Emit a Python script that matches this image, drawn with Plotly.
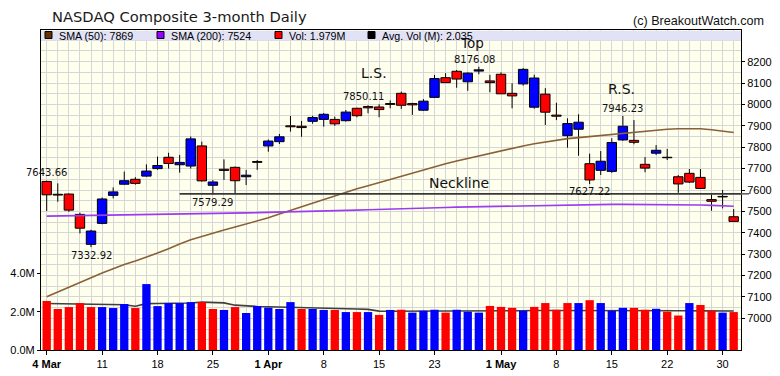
import plotly.graph_objects as go

# ---------------- data ----------------
dates = ["2019-03-04","2019-03-05","2019-03-06","2019-03-07","2019-03-08",
         "2019-03-11","2019-03-12","2019-03-13","2019-03-14","2019-03-15",
         "2019-03-18","2019-03-19","2019-03-20","2019-03-21","2019-03-22",
         "2019-03-25","2019-03-26","2019-03-27","2019-03-28","2019-03-29",
         "2019-04-01","2019-04-02","2019-04-03","2019-04-04","2019-04-05",
         "2019-04-08","2019-04-09","2019-04-10","2019-04-11","2019-04-12",
         "2019-04-15","2019-04-16","2019-04-17","2019-04-18",
         "2019-04-22","2019-04-23","2019-04-24","2019-04-25","2019-04-26",
         "2019-04-29","2019-04-30","2019-05-01","2019-05-02","2019-05-03",
         "2019-05-06","2019-05-07","2019-05-08","2019-05-09","2019-05-10",
         "2019-05-13","2019-05-14","2019-05-15","2019-05-16","2019-05-17",
         "2019-05-20","2019-05-21","2019-05-22","2019-05-23","2019-05-24",
         "2019-05-28","2019-05-29","2019-05-30","2019-05-31"]

open_ = [7640, 7580, 7581, 7486, 7346, 7444, 7575, 7627, 7650, 7665,
         7700, 7753, 7718, 7712, 7806, 7622, 7697, 7706, 7662, 7733,
         7806, 7826, 7900, 7898, 7921, 7930, 7930, 7924, 7982, 7990,
         7988, 8004, 8052, 8004, 7973, 8033, 8125, 8155, 8106, 8156,
         8110, 8141, 8052, 8096, 7987, 8048, 7950, 7854, 7884, 7723,
         7692, 7687, 7834, 7832, 7720, 7772, 7753, 7662, 7678, 7659,
         7555, 7570, 7475]
high = [7643.66, 7631, 7584, 7494, 7414, 7565, 7612, 7686, 7660, 7720,
        7756, 7774, 7764, 7850.11, 7826, 7646, 7743, 7710, 7694, 7740,
        7836, 7862, 7946, 7923, 7947, 7960, 7943, 7974, 7985, 7996,
        8001, 8019, 8060, 8008, 8025, 8138, 8146, 8161, 8150, 8176.08,
        8138, 8150, 8099, 8170, 8139, 8076, 8008, 7935, 7954, 7770,
        7782, 7842, 7946.23, 7927, 7754, 7810, 7792, 7670, 7698, 7698,
        7580, 7600, 7511]
low = [7502, 7545, 7498, 7397, 7332.92, 7440, 7561, 7625, 7625, 7662,
       7695, 7700, 7681, 7700, 7640, 7579.29, 7647, 7584, 7623, 7694,
       7779, 7815, 7873, 7849, 7910, 7896, 7900, 7920, 7940, 7959,
       7940, 7982, 7979, 7951, 7970, 8030, 8100, 8078, 8064, 8141,
       8057, 8050, 7982, 8088, 7980, 7904, 7927, 7798, 7760, 7627.22,
       7670, 7680, 7830, 7814, 7683, 7764, 7740, 7587, 7633, 7606,
       7503, 7514, 7452]
close = [7577.57, 7576.36, 7505.92, 7421.46, 7408.14, 7558.06, 7591.03, 7643.41, 7630.91, 7688.53,
         7714.48, 7723.95, 7728.97, 7838.96, 7642.67, 7637.54, 7691.52, 7643.38, 7669.17, 7729.32,
         7828.91, 7848.69, 7895.55, 7891.78, 7938.69, 7953.88, 7909.28, 7964.24, 7947.36, 7984.16,
         7976.01, 8000.23, 7996.08, 7998.06, 8015.27, 8120.82, 8102.01, 8118.68, 8146.40, 8161.85,
         8102.00, 8049.64, 8040.00, 8164.00, 8123.45, 7963.76, 7945.00, 7910.59, 7916.94, 7647.02,
         7734.49, 7822.15, 7898.05, 7823.00, 7702.38, 7785.72, 7750.84, 7628.28, 7637.01, 7607.35,
         7547.31, 7567.72, 7453.15]
prev_close = 7595.35

volume_m = [2.56, 2.14, 2.24, 2.45, 2.24, 2.24, 2.19, 2.40, 2.19, 3.44,
            2.29, 2.45, 2.45, 2.50, 2.50, 2.14, 2.09, 2.24, 1.93, 2.29,
            2.21, 2.14, 2.50, 2.14, 2.14, 2.09, 2.09, 1.98, 1.98, 1.98,
            1.83, 2.09, 2.10, 1.95, 2.05, 2.10, 1.95, 2.10, 2.00, 1.95,
            2.30, 2.25, 2.20, 2.05, 2.25, 2.45, 2.10, 2.45, 2.45, 2.60,
            2.45, 2.05, 2.20, 2.20, 2.10, 2.15, 2.00, 1.80, 2.45, 2.35,
            2.05, 1.95, 1.979]
avg_vol_m = [2.43, 2.42, 2.42, 2.41, 2.41, 2.40, 2.39, 2.36, 2.28, 2.42,
             2.43, 2.43, 2.43, 2.45, 2.50, 2.48, 2.46, 2.34, 2.29, 2.27,
             2.26, 2.25, 2.20, 2.20, 2.19, 2.18, 2.16, 2.15, 2.14, 2.12,
             2.03, 2.02, 2.02, 2.02, 2.03, 2.03, 2.03, 2.03, 2.03, 2.03,
             2.04, 2.05, 2.05, 2.05, 2.06, 2.06, 2.06, 2.07, 2.07, 2.08,
             2.08, 2.08, 2.08, 2.07, 2.07, 2.06, 2.06, 2.05, 2.05, 2.04,
             2.04, 2.04, 2.035]
sma50 = [7101, 7124, 7146, 7168, 7190, 7212, 7232, 7252, 7268, 7285,
         7305, 7325, 7348, 7367, 7383, 7398, 7413, 7427, 7441, 7455,
         7470, 7488, 7505, 7522, 7540, 7557, 7574, 7590, 7606, 7620,
         7635, 7650, 7665, 7680, 7695, 7710, 7723, 7736, 7748, 7760,
         7772, 7784, 7796, 7806, 7816, 7825, 7833, 7840, 7845, 7850,
         7855, 7860, 7866, 7871, 7876, 7880, 7884, 7886, 7887, 7886,
         7882, 7876, 7869]
sma200 = [7478, 7479, 7480, 7480, 7481, 7482, 7483, 7484, 7485, 7486,
          7487, 7488, 7489, 7490, 7491, 7492, 7492, 7493, 7493, 7494,
          7495, 7496, 7497, 7499, 7500, 7502, 7503, 7505, 7506, 7508,
          7509, 7511, 7512, 7514, 7515, 7517, 7518, 7520, 7521, 7523,
          7524, 7526, 7527, 7528, 7529, 7530, 7531, 7531, 7532, 7532,
          7532, 7533, 7533, 7533, 7533, 7533, 7532, 7532, 7531, 7530,
          7528, 7526, 7524]

tick_dates = ["2019-03-04","2019-03-11","2019-03-18","2019-03-25","2019-04-01",
              "2019-04-08","2019-04-15","2019-04-23","2019-05-01","2019-05-08",
              "2019-05-15","2019-05-22","2019-05-30"]
tick_labels = ["<b>4 Mar</b>","11","18","25","<b>1 Apr</b>","8","15","23",
               "<b>1 May</b>","8","15","22","30"]
price_ticks = [7000, 7100, 7200, 7300, 7400, 7500, 7600, 7700, 7800, 7900, 8000, 8100, 8200]
vol_ticks_m = [0, 2, 4]

neckline_level = 7582
neckline_start = "2019-03-20"

legend_items = [("SMA (50): 7869", "#663300"), ("SMA (200): 7524", "#9900ff"),
                ("Vol: 1.979M", "#ff0000"), ("Avg. Vol (M): 2.035", "#000000")]

# ---------------- derived ----------------
n = len(dates)
xi = list(range(n))
UP, DN = "#0000ff", "#ff0000"
body_base = [min(o, c) for o, c in zip(open_, close)]
body_h = [abs(c - o) for o, c in zip(open_, close)]
body_col = [UP if c > o else DN for o, c in zip(open_, close)]
prevs = [prev_close] + close[:-1]
vol_col = [UP if c > p else DN for c, p in zip(close, prevs)]

wx, wy = [], []
for i in xi:
    top = max(open_[i], close[i]); bot = min(open_[i], close[i])
    wx += [i, i, None, i, i, None]
    wy += [high[i], top, None, bot, low[i], None]

FONT = "Liberation Sans, Arial, sans-serif"
DV = "DejaVu Sans, sans-serif"
GRID = "#d6d6d6"
Y_RANGE = [6852, 8348]

fig = go.Figure()
fig.add_trace(go.Scatter(x=wx, y=wy, mode="lines", line=dict(color="black", width=1),
                         hoverinfo="skip", showlegend=False))
fig.add_trace(go.Bar(x=xi, y=body_h, base=body_base, width=0.85,
                     marker=dict(color=body_col, line=dict(color="black", width=1)),
                     showlegend=False))
fig.add_trace(go.Scatter(x=xi, y=sma50, mode="lines", line=dict(color="#8a6038", width=1.6),
                         showlegend=False))
fig.add_trace(go.Scatter(x=xi, y=sma200, mode="lines", line=dict(color="#9a3cf0", width=1.6),
                         showlegend=False))
fig.add_trace(go.Scatter(x=xi, y=[v * 1e6 for v in avg_vol_m], mode="lines", yaxis="y2",
                         line=dict(color="#404040", width=1.6), showlegend=False))
fig.add_trace(go.Bar(x=xi, y=[v * 1e6 for v in volume_m], yaxis="y3", width=0.75,
                     marker=dict(color=vol_col, line=dict(width=0)), showlegend=False))

PL, PR, PT, PB = 41, 741, 30, 350
def px(x): return (x - PL) / (PR - PL)
def py(y): return (PB - y) / (PB - PT)

ns = dates.index(neckline_start)
fig.add_shape(type="line", xref="x", yref="y", x0=ns, x1=n + 1, y0=neckline_level, y1=neckline_level,
              line=dict(color="#383838", width=1.6), layer="above")
neck_p = (neckline_level - Y_RANGE[0]) / (Y_RANGE[1] - Y_RANGE[0])
fig.add_shape(type="line", xref="paper", yref="paper", x0=1, x1=px(749), y0=neck_p, y1=neck_p,
              line=dict(color="#606060", width=1.6), layer="above")

# legend band
fig.add_shape(type="rect", xref="paper", yref="paper", x0=0, x1=1, y0=py(40.5), y1=py(30.8),
              fillcolor="#e2e2f6", line=dict(width=0), layer="above")
leg_x = [45, 157, 275, 368]
for (txt, col), lx in zip(legend_items, leg_x):
    fig.add_shape(type="rect", xref="paper", yref="paper", x0=px(lx), x1=px(lx + 7),
                  y0=py(38.5), y1=py(31.5), fillcolor=col, line=dict(color="black", width=1),
                  layer="above")
    fig.add_annotation(xref="paper", yref="paper", x=px(lx + 12), y=py(35.5), text=txt,
                       showarrow=False, xanchor="left", yanchor="middle",
                       font=dict(family=FONT, size=10.7, color="black"))

# pattern annotations
def ann(i, yv, text, size, anchor, ys=0, xs=0):
    fig.add_annotation(x=i, y=yv, text=text, showarrow=False, xanchor="center", yanchor=anchor,
                       yshift=ys, xshift=xs, font=dict(family=DV, size=size, color="#111"))

i_ls = high.index(max(high[:30]))
ann(0, high[0], "7643.66", 10, "bottom", 1)
ann(i_ls, high[i_ls], "7850.11", 10, "bottom", 1, -5)
ann(i_ls, high[i_ls], "L.S.", 14, "bottom", 22, 6)
i_lo = low.index(min(low))
ann(i_lo, low[i_lo], "7332.92", 10, "top", -1)
ann(15, low[15], "7579.29", 10, "top", -0.5)
i_top = high.index(max(high))
ann(i_top, high[i_top], "8176.08", 10, "bottom", 0, -4)
ann(i_top, high[i_top], "Top", 13.5, "bottom", 14, -7)
ann(52, high[52], "7946.23", 10, "bottom", 0)
ann(52, high[52], "R.S.", 14, "bottom", 17, -1)
ann(49, low[49], "7627.22", 10, "top", 0)
fig.add_annotation(x=37.2, y=neckline_level, text="Neckline", showarrow=False, xanchor="center",
                   yanchor="bottom", yshift=1, font=dict(family=DV, size=14, color="#111"))

fig.add_annotation(xref="paper", yref="paper", x=px(50), y=py(16), text="NASDAQ Composite 3-month Daily",
                   showarrow=False, xanchor="left", yanchor="middle",
                   font=dict(family=DV, size=14.7, color="#1a1a1a"))
fig.add_annotation(xref="paper", yref="paper", x=px(766), y=py(21), text="(c) BreakoutWatch.com",
                   showarrow=False, xanchor="right", yanchor="middle",
                   font=dict(family=FONT, size=12.6, color="#111"))

fig.update_layout(
    width=780, height=376, margin=dict(l=PL, r=780 - PR, t=PT, b=376 - PB, autoexpand=False),
    paper_bgcolor="white", plot_bgcolor="#ffffee", barmode="overlay", showlegend=False,
    font=dict(family=FONT, size=10.7, color="black"),
    xaxis=dict(range=[-0.514, 62.66], tickmode="array", automargin=False,
               tickvals=[dates.index(d) for d in tick_dates], ticktext=tick_labels,
               ticks="outside", ticklen=4, tickcolor="black", showgrid=True, gridcolor=GRID,
               minor=dict(tickmode="linear", tick0=0, dtick=1, showgrid=True, gridcolor=GRID, ticks=""),
               showline=True, linecolor="black", mirror=True, zeroline=False,
               tickfont=dict(family=FONT, size=11)),
    yaxis=dict(side="right", range=Y_RANGE, tickmode="array", tickvals=price_ticks,
               automargin=False,
               ticks="outside", ticklen=3, tickcolor="black", showgrid=True, gridcolor=GRID,
               minor=dict(tickmode="linear", tick0=0, dtick=50, showgrid=True, gridcolor=GRID, ticks=""),
               showline=True, linecolor="black", mirror=True, zeroline=False,
               tickfont=dict(family=FONT, size=11)),
    yaxis2=dict(overlaying="y", side="left", range=[0, 16.7e6], tickmode="array", automargin=False,
                tickvals=[v * 1e6 for v in vol_ticks_m], ticktext=[f"{v:.1f}M" for v in vol_ticks_m],
                ticks="outside", ticklen=3, tickcolor="black", showgrid=False, zeroline=False,
                showline=False, tickfont=dict(family=FONT, size=11)),
    yaxis3=dict(overlaying="y", range=[0, 16.7e6], visible=False, automargin=False),
)

fig.write_html("out.html", config={"displayModeBar": False},
               post_script="document.body.style.margin='0px';document.body.style.overflow='hidden';")
